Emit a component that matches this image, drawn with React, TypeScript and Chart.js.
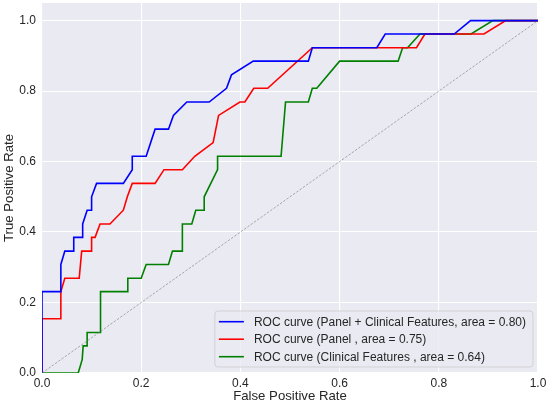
import React, { useEffect, useRef } from "react";
import { Chart, registerables } from "chart.js";

Chart.register(...registerables);

// Panel + Clinical Features
const blueFpr = [0, 0, 0.038, 0.038, 0.046, 0.064, 0.064, 0.082, 0.082, 0.091, 0.100, 0.100, 0.110, 0.164, 0.182, 0.182, 0.210, 0.228, 0.255, 0.265, 0.292, 0.337, 0.372, 0.382, 0.426, 0.537, 0.545, 0.675, 0.692, 0.831, 0.864, 1];
const blueTpr = [0, 0.231, 0.231, 0.308, 0.346, 0.346, 0.385, 0.385, 0.423, 0.462, 0.462, 0.500, 0.538, 0.538, 0.577, 0.615, 0.615, 0.692, 0.692, 0.731, 0.769, 0.769, 0.808, 0.846, 0.885, 0.885, 0.923, 0.923, 0.962, 0.962, 1, 1];

// Panel
const redFpr = [0, 0, 0.038, 0.038, 0.046, 0.075, 0.080, 0.100, 0.100, 0.107, 0.117, 0.137, 0.164, 0.172, 0.182, 0.228, 0.246, 0.283, 0.308, 0.345, 0.356, 0.399, 0.409, 0.427, 0.455, 0.545, 0.755, 0.772, 0.891, 0.935, 1];
const redTpr = [0, 0.154, 0.154, 0.231, 0.269, 0.269, 0.346, 0.346, 0.385, 0.385, 0.423, 0.423, 0.462, 0.500, 0.538, 0.538, 0.577, 0.577, 0.615, 0.654, 0.731, 0.769, 0.769, 0.808, 0.808, 0.923, 0.923, 0.962, 0.962, 1, 1];

// Clinical Features
const greenFpr = [0, 0.073, 0.081, 0.083, 0.091, 0.091, 0.118, 0.118, 0.173, 0.173, 0.200, 0.210, 0.255, 0.263, 0.283, 0.283, 0.302, 0.310, 0.327, 0.327, 0.354, 0.354, 0.482, 0.491, 0.537, 0.545, 0.554, 0.600, 0.718, 0.727, 0.737, 0.762, 0.865, 0.909, 1];
const greenTpr = [0, 0, 0.038, 0.077, 0.077, 0.115, 0.115, 0.231, 0.231, 0.269, 0.269, 0.308, 0.308, 0.346, 0.346, 0.423, 0.423, 0.462, 0.462, 0.500, 0.577, 0.615, 0.615, 0.769, 0.769, 0.808, 0.808, 0.885, 0.885, 0.923, 0.923, 0.962, 0.962, 1, 1];

const chanceFpr = [0, 1];
const chanceTpr = [0, 1];

const seriesLabels = [
  "ROC curve (Panel + Clinical Features, area = 0.80)",
  "ROC curve (Panel , area = 0.75)",
  "ROC curve (Clinical Features , area = 0.64)",
];
const seriesColors = ["#0000ff", "#ff0000", "#008000"];

const tickValues = [0, 0.2, 0.4, 0.6, 0.8, 1.0];

const toPoints = (xs: number[], ys: number[]) => xs.map((x, i) => ({ x, y: ys[i] }));

const FONT = "'Liberation Sans', Arial, sans-serif";
const TEXT = "#262626";

const bgPlugin = {
  id: "bgPlugin",
  beforeDraw(chart: any) {
    const { ctx, chartArea } = chart;
    ctx.save();
    ctx.fillStyle = "#eaeaf2";
    ctx.fillRect(chartArea.left, chartArea.top, chartArea.right - chartArea.left, chartArea.bottom - chartArea.top);
    ctx.restore();
  },
};

const legendPlugin = {
  id: "legendPlugin",
  afterDraw(chart: any) {
    const { ctx, chartArea } = chart;
    ctx.save();
    ctx.font = `12px ${FONT}`;
    const widths = seriesLabels.map((t) => ctx.measureText(t).width);
    const maxW = Math.max(...widths);
    const rowH = 17.5;
    const w = 39 + maxW + 7;
    const h = 56;
    const x = chartArea.right - 5 - w;
    const y = chartArea.bottom - 6 - h;
    const r = 3;
    ctx.beginPath();
    ctx.moveTo(x + r, y);
    ctx.lineTo(x + w - r, y);
    ctx.arcTo(x + w, y, x + w, y + r, r);
    ctx.lineTo(x + w, y + h - r);
    ctx.arcTo(x + w, y + h, x + w - r, y + h, r);
    ctx.lineTo(x + r, y + h);
    ctx.arcTo(x, y + h, x, y + h - r, r);
    ctx.lineTo(x, y + r);
    ctx.arcTo(x, y, x + r, y, r);
    ctx.closePath();
    ctx.fillStyle = "rgba(234,234,242,0.8)";
    ctx.fill();
    ctx.strokeStyle = "rgba(204,204,204,0.8)";
    ctx.lineWidth = 1;
    ctx.stroke();
    seriesLabels.forEach((label, i) => {
      const cy = y + 10.7 + i * rowH;
      ctx.beginPath();
      ctx.moveTo(x + 4, cy);
      ctx.lineTo(x + 29, cy);
      ctx.strokeStyle = seriesColors[i];
      ctx.lineWidth = 1.6;
      ctx.stroke();
      ctx.fillStyle = TEXT;
      ctx.textBaseline = "middle";
      ctx.textAlign = "left";
      ctx.fillText(label, x + 39, cy + 0.5);
    });
    ctx.restore();
  },
};

export default function App() {
  const ref = useRef<HTMLCanvasElement | null>(null);
  useEffect(() => {
    if (!ref.current) return;
    const lineDs = (i: number, xs: number[], ys: number[]) => ({
      label: seriesLabels[i],
      data: toPoints(xs, ys),
      borderColor: seriesColors[i],
      backgroundColor: seriesColors[i],
      borderWidth: 1.6,
      pointRadius: 0,
      fill: false,
      tension: 0,
    });
    const chart = new Chart(ref.current, {
      type: "line",
      data: {
        datasets: [
          {
            label: "chance",
            data: toPoints(chanceFpr, chanceTpr),
            borderColor: "rgba(128,128,128,0.8)",
            borderWidth: 0.8,
            borderDash: [2.5, 1.5],
            pointRadius: 0,
            fill: false,
          },
          lineDs(0, blueFpr, blueTpr),
          lineDs(1, redFpr, redTpr),
          lineDs(2, greenFpr, greenTpr),
        ],
      },
      options: {
        animation: false,
        responsive: false,
        parsing: true,
        layout: { padding: { left: 0, right: 12, top: 3, bottom: 0 } },
        plugins: { legend: { display: false }, tooltip: { enabled: false } },
        scales: {
          x: {
            type: "linear",
            min: 0,
            max: 1,
            ticks: {
              stepSize: 0.2,
              color: TEXT,
              font: { size: 12, family: FONT },
              padding: 3.5,
              maxRotation: 0,
              callback: (v: any) => Number(v).toFixed(1),
            },
            grid: { color: "#ffffff", lineWidth: 1.1, drawTicks: false },
            border: { display: false },
            title: {
              display: true,
              text: "False Positive Rate",
              color: TEXT,
              font: { size: 13.2, family: FONT },
              padding: { top: 0, bottom: 1.2 },
            },
            afterBuildTicks: (scale: any) => {
              scale.ticks = tickValues.map((v) => ({ value: v }));
            },
            afterFit: (scale: any) => {
              scale.height = 32;
              scale.paddingLeft = 0;
              scale.paddingRight = 0;
            },
          },
          y: {
            type: "linear",
            min: 0,
            max: 1.05,
            ticks: {
              color: TEXT,
              font: { size: 12, family: FONT },
              padding: 6,
              callback: (v: any) => Number(v).toFixed(1),
            },
            grid: { color: "#ffffff", lineWidth: 1.1, drawTicks: false },
            border: { display: false },
            title: {
              display: true,
              text: "True Positive Rate",
              color: TEXT,
              font: { size: 13.2, family: FONT },
              padding: { top: 1, bottom: 0 },
            },
            afterBuildTicks: (scale: any) => {
              scale.ticks = tickValues.map((v) => ({ value: v }));
            },
            afterFit: (scale: any) => {
              scale.width = 42;
              scale.paddingTop = 0;
              scale.paddingBottom = 0;
            },
          },
        },
      },
      plugins: [bgPlugin, legendPlugin],
    });
    return () => chart.destroy();
  }, []);
  return (
    <div style={{ position: "absolute", left: 0, top: 0, width: 550, height: 405 }}>
      <canvas ref={ref} width={550} height={405} style={{ display: "block" }} />
    </div>
  );
}
